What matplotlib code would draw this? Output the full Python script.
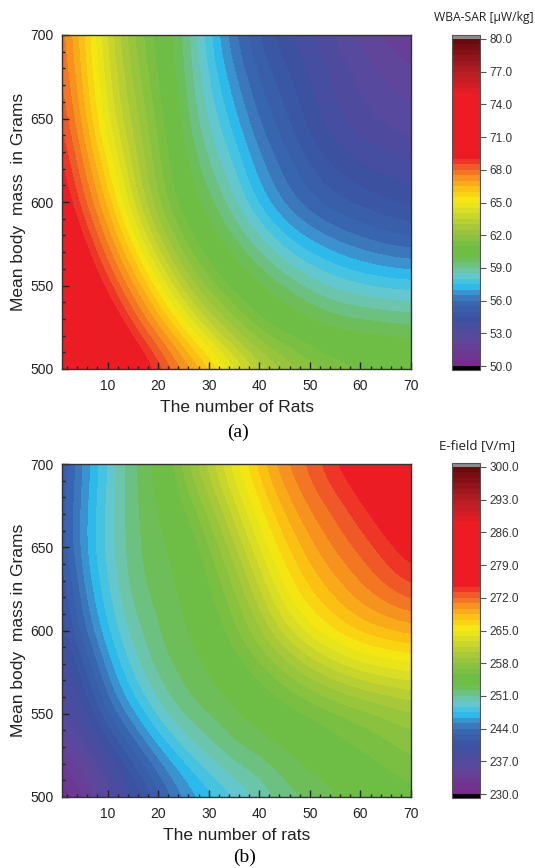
import numpy as np
import matplotlib
matplotlib.use("Agg")
import matplotlib.pyplot as plt
from matplotlib.colors import LinearSegmentedColormap, BoundaryNorm
from matplotlib.ticker import MultipleLocator

plt.rcParams['font.family'] = ['Liberation Sans', 'DejaVu Sans']

# grid where the values were read (x: number of rats, y: mean body mass)
rats = [0, 5, 10, 15, 20, 25, 30, 35, 40, 45, 50, 55, 60, 65, 70]
mass = [500, 525, 550, 575, 600, 625, 650, 675, 700]

# (a) WBA-SAR [uW/kg], one row per mass value (500 -> 700)
sar = [
    [74.2, 72.9, 71.6, 70.3, 69.0, 67.7, 66.4, 64.9, 63.5, 62.6, 61.9, 61.4, 61.2, 61.1, 61.0],
    [73.1, 71.6, 70.2, 68.7, 67.2, 65.5, 63.7, 62.3, 61.2, 60.7, 60.3, 60.0, 59.9, 59.8, 59.7],
    [71.9, 70.4, 68.8, 67.2, 65.2, 63.1, 61.6, 60.7, 60.1, 59.5, 58.9, 58.4, 58.1, 57.9, 57.8],
    [71.0, 69.3, 67.6, 65.5, 63.2, 61.5, 60.5, 59.7, 58.8, 57.8, 57.1, 56.6, 56.2, 55.9, 55.7],
    [70.1, 68.3, 66.4, 63.9, 61.9, 60.6, 59.7, 58.6, 57.3, 56.3, 55.6, 55.1, 54.8, 54.5, 54.3],
    [69.5, 67.6, 65.4, 63.3, 61.6, 60.2, 59.0, 57.9, 56.6, 55.7, 54.9, 54.3, 53.9, 53.7, 53.5],
    [68.9, 66.9, 64.5, 62.8, 61.3, 59.8, 58.4, 57.2, 55.9, 55.1, 54.2, 53.6, 53.1, 52.8, 52.6],
    [68.5, 66.5, 64.2, 62.4, 61.0, 59.6, 58.0, 56.6, 55.4, 54.7, 54.0, 53.4, 52.9, 52.5, 52.2],
    [68.2, 66.2, 63.9, 62.0, 60.7, 59.5, 57.6, 56.0, 54.9, 54.1, 53.5, 52.9, 52.3, 51.8, 51.4],
]

# (b) E-field [V/m]
efield = [
    [230.8, 232.8, 236.2, 238.6, 242.2, 245.0, 246.7, 248.3, 249.9, 251.5, 252.2, 253.0, 253.7, 254.4, 255.0],
    [233.1, 235.9, 238.7, 242.4, 245.5, 248.0, 250.1, 251.7, 252.3, 253.2, 254.0, 254.8, 255.5, 256.2, 257.0],
    [236.6, 238.7, 243.0, 246.2, 249.2, 251.6, 252.4, 253.2, 254.0, 254.8, 255.5, 256.3, 257.1, 257.8, 258.6],
    [237.8, 240.6, 245.5, 248.9, 251.6, 252.5, 253.4, 254.5, 256.1, 257.7, 259.8, 261.3, 262.6, 263.3, 263.8],
    [238.5, 243.6, 247.4, 250.5, 252.2, 253.2, 254.4, 256.5, 259.0, 262.3, 264.8, 266.6, 267.9, 268.6, 269.2],
    [239.2, 245.0, 248.5, 251.7, 252.6, 253.6, 255.4, 257.8, 261.5, 265.2, 267.5, 269.1, 270.7, 272.0, 273.2],
    [241.1, 245.9, 249.2, 251.9, 253.0, 254.0, 256.6, 259.9, 264.1, 267.1, 269.3, 271.2, 272.4, 274.0, 275.5],
    [241.0, 245.7, 249.0, 252.0, 253.3, 255.5, 258.6, 262.5, 266.1, 268.9, 271.2, 272.5, 274.3, 275.8, 277.0],
    [240.9, 245.2, 248.7, 252.1, 253.8, 257.4, 261.1, 264.7, 268.1, 271.0, 272.5, 274.6, 275.9, 276.9, 278.0],
]

sar_range = (50, 80)
efield_range = (230, 300)

# rainbow palette like the one in the colour bars
nodes = [
    (0.00, '#7a2a8c'), (0.07, '#5f479c'), (0.14, '#3b52a2'), (0.19, '#3867b0'),
    (0.215, '#3e86c6'), (0.24, '#2cc1ef'), (0.275, '#6ac8cb'), (0.33, '#6ebd45'),
    (0.36, '#6fbe44'), (0.42, '#a3c73b'), (0.47, '#d5dc26'), (0.505, '#f4ea14'),
    (0.54, '#fcc512'), (0.575, '#f7951e'), (0.61, '#f05a28'), (0.64, '#ec1c24'),
    (0.83, '#ec1c24'), (0.90, '#b81f25'), (1.00, '#6b0a0e'),
]
NLEV = 60
cmap = LinearSegmentedColormap.from_list('origin_rainbow', nodes, N=NLEV)
cmap.set_over('#8c8c8c')
cmap.set_under('#000000')

W, H = 535, 868
fig = plt.figure(figsize=(W / 100, H / 100), dpi=100)


def px(l, t, r, b):
    return [l / W, 1 - b / H, (r - l) / W, (b - t) / H]


def panel(ax_box, cb_box, data, vrange, ticks, xlabel, ylabel, cb_title, cb_title_xy, cb_title_size,
          tag, tag_xy):
    ax = fig.add_axes(px(*ax_box))
    levels = np.linspace(vrange[0], vrange[1], NLEV + 1)
    norm = BoundaryNorm(levels, NLEV)
    dx = (rats[1] - rats[0]) / 2
    dy = (mass[1] - mass[0]) / 2
    im = ax.imshow(np.array(data), origin='lower', aspect='auto', cmap=cmap, norm=norm,
                   interpolation='bicubic', interpolation_stage='data',
                   extent=[rats[0] - dx, rats[-1] + dx, mass[0] - dy, mass[-1] + dy])
    ax.set_xlim(1, 70)
    ax.set_ylim(500, 700)
    ax.set_xticks([10, 20, 30, 40, 50, 60, 70])
    ax.set_yticks([500, 550, 600, 650, 700])
    ax.xaxis.set_minor_locator(MultipleLocator(2))
    ax.yaxis.set_minor_locator(MultipleLocator(10))
    ax.tick_params(which='both', direction='in', color='#222222', labelsize=10,
                   labelcolor='#222222', width=1)
    ax.tick_params(which='major', length=5)
    ax.tick_params(axis='x', which='major', pad=7)
    ax.tick_params(axis='y', which='major', pad=6)
    ax.tick_params(which='minor', length=2.5)
    for s in ax.spines.values():
        s.set_linewidth(1.0)
        s.set_color('#333333')
    ax.set_xlabel(xlabel, fontsize=12.5, labelpad=5, color='#222222')
    ax.set_ylabel(ylabel, fontsize=12.5, labelpad=3, color='#222222')

    cax = fig.add_axes(px(*cb_box))
    cb = fig.colorbar(im, cax=cax, extend='both', extendrect=True, extendfrac=0.012,
                      ticks=ticks, format='%.1f')
    cb.minorticks_off()
    cb.outline.set_linewidth(0.8)
    cb.outline.set_edgecolor('#555555')
    cax.tick_params(direction='out', length=4, width=0.8, color='#555555',
                    labelsize=8.5, labelcolor='#333333', pad=3)
    fig.text(cb_title_xy[0] / W, 1 - cb_title_xy[1] / H, cb_title, ha='center', va='center',
             fontsize=cb_title_size, family=['Open Sans', 'DejaVu Sans'], color='#222222')
    fig.text(tag_xy[0] / W, 1 - tag_xy[1] / H, tag, ha='center', va='center',
             fontsize=14, family=['Liberation Serif', 'DejaVu Serif'])


panel((62, 35, 411, 369), (452, 35, 480, 370), sar, sar_range, np.arange(50, 81, 3),
      'The number of Rats', 'Mean body  mass  in Grams', 'WBA-SAR [μW/kg]', (484, 17), 8.7,
      '(a)', (238, 432))
panel((62, 464, 411, 797), (452, 463, 480, 798), efield, efield_range, np.arange(230, 301, 7),
      'The number of rats', 'Mean body  mass in Grams', 'E-field [V/m]', (477, 446), 9.6,
      '(b)', (245, 857))

fig.savefig('out.png', dpi=100)
